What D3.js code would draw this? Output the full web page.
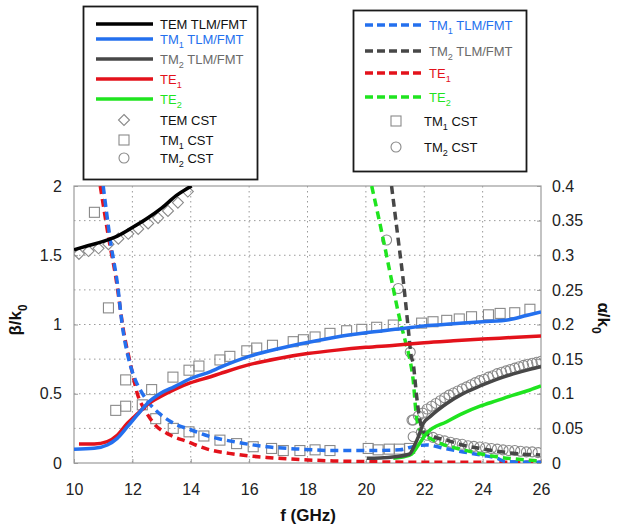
<!DOCTYPE html>
<html><head><meta charset="utf-8">
<script src="https://cdn.jsdelivr.net/npm/d3@7"></script>
<style>body{margin:0;background:#fff}svg{display:block}</style>
</head><body>
<svg id="c" width="617" height="530"></svg>
<script>
// ---- data (f in GHz) ----
const xTicks = [10,12,14,16,18,20,22,24,26];
const yLeftTicks = [0,0.5,1,1.5,2];
const yRightTicks = [0,0.05,0.1,0.15,0.2,0.25,0.3,0.35,0.4];
const yLeftTickLabels = ["0","0.5","1","1.5","2"];
const yRightTickLabels = ["0","0.05","0.1","0.15","0.2","0.25","0.3","0.35","0.4"];

// beta/k0 (left axis)
const temBeta = [[10,1.54],[10.5,1.57],[11,1.60],[11.5,1.64],[12,1.70],[12.5,1.765],[13,1.84],[13.5,1.93],[14.03,2.0]];
const tm1Beta = [[10,0.099],[10.69,0.106],[11.14,0.13],[11.48,0.178],[11.83,0.262],[12.17,0.347],[12.51,0.43],[12.97,0.503],[13.43,0.55],[14,0.61],[14.68,0.66],[15,0.69],[16,0.77],[17,0.825],[18,0.87],[19,0.91],[20,0.94],[21,0.965],[22,0.99],[23,1.005],[24,1.02],[24.9,1.035],[25.5,1.065],[26,1.09]];
const tm2Beta = [[20.03,0.034],[20.48,0.036],[21,0.045],[21.5,0.065],[21.65,0.12],[21.8,0.19],[21.97,0.287],[22.2,0.335],[22.77,0.43],[23.34,0.503],[23.91,0.556],[24.48,0.604],[25.05,0.643],[25.62,0.676],[26,0.695]];
const te1Beta = [[10.17,0.137],[10.69,0.137],[11.14,0.154],[11.48,0.2],[11.83,0.287],[12.17,0.355],[12.5,0.42],[12.97,0.48],[13.43,0.53],[14,0.58],[14.68,0.623],[15,0.645],[16,0.71],[17,0.755],[18,0.79],[19,0.815],[20,0.835],[21,0.85],[22,0.868],[23,0.882],[24,0.895],[25,0.906],[26,0.917]];
const te2Beta = [[20.94,0.034],[21.3,0.045],[21.57,0.065],[21.8,0.13],[22.08,0.214],[22.77,0.298],[23.34,0.36],[23.91,0.41],[24.48,0.45],[25.05,0.49],[25.62,0.527],[26,0.556]];

// alpha/k0 (right axis)
const tm1Alpha = [[11.0,0.4],[11.25,0.32],[11.5,0.255],[11.65,0.2],[11.88,0.149],[12.1,0.12],[12.28,0.105],[12.6,0.085],[12.91,0.072],[13.43,0.057],[14,0.048],[14.68,0.038],[15.45,0.031],[16.6,0.0235],[17.74,0.02],[18.88,0.018],[20,0.018],[21.17,0.019],[21.5,0.0225],[22.08,0.026],[22.7,0.021],[23.34,0.016],[24,0.011],[24.48,0.007],[24.8,0.002],[26,0.001]];
const tm2Alpha = [[20.88,0.4],[21.11,0.322],[21.28,0.264],[21.45,0.195],[21.55,0.155],[21.62,0.144],[21.74,0.096],[21.83,0.067],[21.97,0.045],[22.3,0.038],[22.77,0.033],[23.3,0.026],[23.91,0.021],[24.5,0.017],[25.05,0.014],[25.97,0.0115]];
const te1Alpha = [[10.9,0.4],[11.2,0.322],[11.43,0.269],[11.7,0.19],[11.95,0.14],[12.17,0.1],[12.45,0.075],[12.74,0.057],[13.31,0.04],[13.88,0.031],[14.57,0.02],[15.46,0.013],[16.6,0.008],[17.74,0.005],[18.88,0.003],[20,0.002],[22,0.001],[26,0.001]];
const te2Alpha = [[20.2,0.4],[20.6,0.322],[20.88,0.264],[21.17,0.206],[21.4,0.168],[21.51,0.149],[21.62,0.12],[21.72,0.072],[21.85,0.048],[22.42,0.031],[23.34,0.019],[24.48,0.009],[25.62,0.004],[26,0.003]];

// CST points
const temCstBeta = [[10.17,1.51],[10.5,1.53],[10.84,1.55],[11.18,1.58],[11.52,1.62],[11.86,1.655],[12.2,1.69],[12.54,1.73],[12.88,1.77],[13.22,1.82],[13.56,1.88],[13.9,1.96]];
const tm1CstBeta = [[11.43,0.38],[11.77,0.41],[12.34,0.42],[12.66,0.53],[13.39,0.62],[13.94,0.67],[14.28,0.70],[15.0,0.744],[15.34,0.77],[15.92,0.81],[16.26,0.83],[16.8,0.85],[17.51,0.876],[17.86,0.89],[18.26,0.91],[18.77,0.936],[19.34,0.955],[19.86,0.965],[20.37,0.98],[20.94,0.996],[21.91,1.01],[22.3,1.02],[22.77,1.03],[23.2,1.04],[23.62,1.056],[24.2,1.07],[24.6,1.08],[25.1,1.085],[25.62,1.11]];
const tm1CstAlpha = [[10.7,0.362],[11.18,0.224],[11.77,0.12],[12.8,0.064],[13.4,0.05],[13.94,0.045],[14.45,0.039],[15.0,0.033],[15.57,0.028],[16.14,0.0235],[16.77,0.021],[17.17,0.018],[17.74,0.018],[18.26,0.019],[18.77,0.018],[20.08,0.021],[20.42,0.019],[20.8,0.02],[21.15,0.02],[21.5,0.021]];
const tm2CstBeta = [[21.62,0.31],[21.8,0.34],[21.95,0.36],[22.1,0.39],[22.25,0.41],[22.4,0.43],[22.55,0.45],[22.7,0.47],[22.85,0.49],[23.0,0.505],[23.15,0.52],[23.3,0.535],[23.45,0.55],[23.6,0.565],[23.75,0.58],[23.9,0.595],[24.05,0.605],[24.2,0.62],[24.35,0.63],[24.5,0.645],[24.65,0.655],[24.8,0.665],[24.95,0.675],[25.1,0.685],[25.25,0.695],[25.4,0.705],[25.55,0.713],[25.7,0.72],[25.85,0.727],[26.0,0.735]];
const tm2CstAlpha = [[20.71,0.322],[21.11,0.252],[21.52,0.16],[21.58,0.062],[21.62,0.038],[21.9,0.044],[22.1,0.04],[22.3,0.037],[22.5,0.034],[22.7,0.032],[22.9,0.03],[23.1,0.028],[23.3,0.027],[23.5,0.025],[23.7,0.024],[23.9,0.023],[24.1,0.022],[24.3,0.021],[24.5,0.02],[24.7,0.019],[24.9,0.018],[25.1,0.018],[25.3,0.017],[25.5,0.016],[25.7,0.016],[25.9,0.015]];

// ---- drawing ----
const C = {black:"#000000", blue:"#2470ee", gray:"#474747", red:"#e3121b", green:"#1fe41f", mark:"#8a8a8a"};
const svg = d3.select("#c");
const L=74, R=541, T=186, B=463;
const x = d3.scaleLinear().domain([10,26]).range([L,R]);
const yL = d3.scaleLinear().domain([0,2]).range([B,T]);
const yR = d3.scaleLinear().domain([0,0.4]).range([B,T]);
const font = "'Liberation Sans', Arial, sans-serif";
const LW = 3.5;

svg.append("defs").append("clipPath").attr("id","pc").append("rect")
  .attr("x",L).attr("y",T).attr("width",R-L).attr("height",B-T);

// grid
const grid = svg.append("g").attr("stroke","#9a9a9a").attr("stroke-width",1).attr("stroke-dasharray","1.5,3.5");
xTicks.slice(1,-1).forEach(v=>grid.append("line").attr("x1",x(v)).attr("x2",x(v)).attr("y1",T).attr("y2",B));
d3.range(1,8).map(i=>i*0.25).forEach(v=>grid.append("line").attr("x1",L).attr("x2",R).attr("y1",yL(v)).attr("y2",yL(v)));

// axes
const ax = g=>{g.select(".domain").remove(); g.selectAll("line").attr("stroke","#999");
  g.selectAll("text").attr("font-family",font).attr("font-size",16).attr("fill","#222");};
svg.append("g").attr("transform",`translate(0,${B})`)
  .call(d3.axisBottom(x).tickValues(xTicks).tickSize(-4).tickPadding(21)).call(ax);
svg.append("g").attr("transform",`translate(${L},0)`)
  .call(d3.axisLeft(yL).tickValues(yLeftTicks).tickFormat((d,i)=>yLeftTickLabels[i]).tickSize(-4).tickPadding(12)).call(ax);
svg.append("g").attr("transform",`translate(${R},0)`)
  .call(d3.axisRight(yR).tickValues(yRightTicks).tickFormat((d,i)=>yRightTickLabels[i]).tickSize(-4).tickPadding(11)).call(ax);
svg.append("rect").attr("x",L).attr("y",T).attr("width",R-L).attr("height",B-T)
  .attr("fill","none").attr("stroke","#9c9c9c").attr("stroke-width",1.2);

// labels with subscripts
function subText(g, x0, y0, main, sub, rest, opts){
  const t = g.append("text").attr("x",x0).attr("y",y0).attr("font-family",font)
    .attr("font-size",opts.size).attr("fill",opts.fill).attr("font-weight",opts.weight||"normal");
  if(opts.anchor) t.attr("text-anchor",opts.anchor);
  if(opts.transform) t.attr("transform",opts.transform);
  t.append("tspan").text(main);
  if(sub){ t.append("tspan").attr("dy",opts.size*0.35).attr("font-size",opts.size*0.7).text(sub);
    if(rest) t.append("tspan").attr("dy",-opts.size*0.35).text(rest); }
  else if(rest) t.append("tspan").text(rest);
  return t;
}
svg.append("text").attr("x",308).attr("y",521).attr("text-anchor","middle")
  .attr("font-family",font).attr("font-weight","bold").attr("font-size",17).attr("fill","#111").text("f (GHz)");
subText(svg,0,0,"β/k","0",null,{size:17,fill:"#111",weight:"bold",anchor:"middle",transform:"translate(21,320) rotate(-90)"});
subText(svg,0,0,"α/k","0",null,{size:17,fill:"#111",weight:"bold",anchor:"middle",transform:"translate(598,318) rotate(90)"});

// curves
const plot = svg.append("g").attr("clip-path","url(#pc)");
const lineL = d3.line().x(d=>x(d[0])).y(d=>yL(d[1])).curve(d3.curveMonotoneX);
const lineR = d3.line().x(d=>x(d[0])).y(d=>yR(d[1])).curve(d3.curveMonotoneX);
const DASH = "8,5";

// markers
function diamond(g,cx,cy){ g.append("path").attr("d",`M${cx},${cy-5.5}L${cx+5.5},${cy}L${cx},${cy+5.5}L${cx-5.5},${cy}Z`)
  .attr("fill","none").attr("stroke",C.mark).attr("stroke-width",1.1); }
function square(g,cx,cy){ g.append("rect").attr("x",cx-5).attr("y",cy-5).attr("width",10).attr("height",10)
  .attr("fill","none").attr("stroke",C.mark).attr("stroke-width",1.1); }
function circle(g,cx,cy){ g.append("circle").attr("cx",cx).attr("cy",cy).attr("r",5)
  .attr("fill","none").attr("stroke",C.mark).attr("stroke-width",1.1); }

const mk = plot.append("g");
temCstBeta.forEach(d=>diamond(mk,x(d[0]),yL(d[1])));
tm1CstBeta.forEach(d=>square(mk,x(d[0]),yL(d[1])));
tm1CstAlpha.forEach(d=>square(mk,x(d[0]),yR(d[1])));
tm2CstBeta.forEach(d=>circle(mk,x(d[0]),yL(d[1])));
tm2CstAlpha.forEach(d=>circle(mk,x(d[0]),yR(d[1])));

const solid = [[te2Beta,C.green],[tm2Beta,C.gray],[te1Beta,C.red],[tm1Beta,C.blue],[temBeta,C.black]];
const dashed = [[te1Alpha,C.red],[tm1Alpha,C.blue],[te2Alpha,C.green],[tm2Alpha,C.gray]];
dashed.forEach(([d,c])=>plot.append("path").attr("d",lineR(d)).attr("fill","none").attr("stroke",c)
  .attr("stroke-width",LW).attr("stroke-dasharray",DASH));
solid.forEach(([d,c])=>plot.append("path").attr("d",lineL(d)).attr("fill","none").attr("stroke",c).attr("stroke-width",LW));

// legend 1
const lg1 = svg.append("g");
lg1.append("rect").attr("x",83.5).attr("y",6.5).attr("width",174).attr("height",173)
  .attr("fill","#fff").attr("stroke","#1a1a1a").attr("stroke-width",1.8);
const leg1 = [
  {t:"TEM TLM/FMT",s:null,r:null,c:C.black,tc:"#111",y:24,k:"line"},
  {t:"TM",s:"1",r:" TLM/FMT",c:C.blue,tc:C.blue,y:39,k:"line"},
  {t:"TM",s:"2",r:" TLM/FMT",c:C.gray,tc:"#6a6a6a",y:59,k:"line"},
  {t:"TE",s:"1",r:null,c:C.red,tc:C.red,y:79,k:"line"},
  {t:"TE",s:"2",r:null,c:C.green,tc:C.green,y:99,k:"line"},
  {t:"TEM CST",s:null,r:null,tc:"#111",y:120,k:"diamond"},
  {t:"TM",s:"1",r:" CST",tc:"#111",y:140,k:"square"},
  {t:"TM",s:"2",r:" CST",tc:"#111",y:158,k:"circle"}];
leg1.forEach(e=>{
  if(e.k==="line") lg1.append("line").attr("x1",96).attr("x2",153).attr("y1",e.y).attr("y2",e.y).attr("stroke",e.c).attr("stroke-width",LW);
  else ({diamond,square,circle})[e.k](lg1,124,e.y);
  subText(lg1,160,e.y+4.5,e.t,e.s,e.r,{size:13,fill:e.tc});
});

// legend 2
const lg2 = svg.append("g");
lg2.append("rect").attr("x",353.5).attr("y",10.5).attr("width",173).attr("height",161)
  .attr("fill","#fff").attr("stroke","#1a1a1a").attr("stroke-width",1.8);
const leg2 = [
  {t:"TM",s:"1",r:"  TLM/FMT",c:C.blue,tc:C.blue,y:25,k:"line"},
  {t:"TM",s:"2",r:" TLM/FMT",c:C.gray,tc:"#6a6a6a",y:51,k:"line"},
  {t:"TE",s:"1",r:null,c:C.red,tc:C.red,y:73,k:"line"},
  {t:"TE",s:"2",r:null,c:C.green,tc:C.green,y:97,k:"line"},
  {t:"TM",s:"1",r:" CST",tc:"#111",y:121,k:"square"},
  {t:"TM",s:"2",r:" CST",tc:"#111",y:147,k:"circle"}];
leg2.forEach(e=>{
  if(e.k==="line") lg2.append("line").attr("x1",365).attr("x2",423).attr("y1",e.y).attr("y2",e.y).attr("stroke",e.c).attr("stroke-width",LW).attr("stroke-dasharray","8,4");
  else ({square,circle})[e.k](lg2,396,e.y);
  subText(lg2,e.k==="line"?429:424,e.y+4.5,e.t,e.s,e.r,{size:13,fill:e.tc});
});
</script>
</body></html>
